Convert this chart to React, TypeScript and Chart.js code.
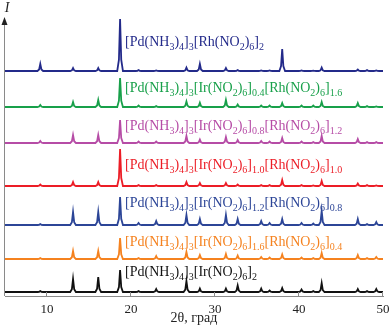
import React, { useEffect, useRef } from 'react';
import { Chart, registerables } from 'chart.js';

Chart.register(...registerables);

// 2θ positions (degrees) of the reflections
const peakPositions = [9.2, 13.1, 16.1, 18.7, 20.9, 23.0, 26.6, 28.2, 31.3, 32.7, 35.5, 36.5, 38.0, 40.3, 41.7, 42.7, 47.0, 48.1, 49.2];

// Peak intensities (arbitrary units) for each pattern, top to bottom
const intRh2 = [7, 3, 3, 52, 1, 0.5, 3.5, 7, 3, 1, 0.5, 0.5, 22, 0.5, 0.3, 3.5, 1.5, 1, 0.5];
const intIr04 = [2, 5, 7, 29, 1.5, 1, 5.5, 4.3, 7, 2.5, 1.5, 1.5, 4, 1.5, 1.5, 5, 4, 1, 0.5];
const intIr08 = [2, 8, 8, 23, 1.5, 1.5, 7, 3.5, 6, 3, 2, 1.5, 5, 1.5, 1, 7, 4, 1, 1];
const intIr10 = [1.5, 4, 4, 37, 1, 1, 4, 3, 3, 1.5, 1, 1, 6, 1, 0.5, 5, 2.5, 1, 0.5];
const intIr12 = [1, 13, 13, 28, 2, 4, 10, 6, 10, 6, 4, 2, 6, 2, 1.5, 14, 6, 1, 3];
const intIr16 = [1, 8, 8, 21, 1, 3, 7, 4, 5, 3.5, 2, 1.5, 4.5, 1.5, 1, 6, 4, 1, 2];
const intIr2 = [1, 13, 15, 22, 1, 3, 11, 3.5, 3.5, 6.5, 3.5, 1.5, 4, 2.5, 1, 9, 3, 1, 3];

const seriesIntensities = [intRh2, intIr04, intIr08, intIr10, intIr12, intIr16, intIr2];

// Labels (_{...} = subscript)
const seriesLabels = [
  '[Pd(NH_{3})_{4}]_{3}[Rh(NO_{2})_{6}]_{2}',
  '[Pd(NH_{3})_{4}]_{3}[Ir(NO_{2})_{6}]_{0.4}[Rh(NO_{2})_{6}]_{1.6}',
  '[Pd(NH_{3})_{4}]_{3}[Ir(NO_{2})_{6}]_{0.8}[Rh(NO_{2})_{6}]_{1.2}',
  '[Pd(NH_{3})_{4}]_{3}[Ir(NO_{2})_{6}]_{1.0}[Rh(NO_{2})_{6}]_{1.0}',
  '[Pd(NH_{3})_{4}]_{3}[Ir(NO_{2})_{6}]_{1.2}[Rh(NO_{2})_{6}]_{0.8}',
  '[Pd(NH_{3})_{4}]_{3}[Ir(NO_{2})_{6}]_{1.6}[Rh(NO_{2})_{6}]_{0.4}',
  '[Pd(NH_{3})_{4}]_{3}[Ir(NO_{2})_{6}]_{2}',
];

const seriesColors = ['#232a8a', '#18a04a', '#b64ca6', '#ec1d26', '#2c4597', '#f5821f', '#111111'];

// vertical stacking offsets of each pattern, and label lift above its baseline
const baselineOffsets = [225, 189, 153, 110, 71, 37, 4];
const labelLifts = [25, 15, 13, 17, 18, 13, 16];
const labelX = 19.3;

const xTicks = [10, 20, 30, 40, 50];
const xMin = 5;
const xMax = 50;
const yMax = 278;

function buildTrace(heights: number[], offset: number) {
  const pts: { x: number; y: number }[] = [{ x: xMin, y: offset }];
  const w = 0.34;
  peakPositions.forEach((p, i) => {
    const h = heights[i];
    pts.push({ x: p - w, y: offset });
    pts.push({ x: p - w * 0.4, y: offset + h * 0.22 });
    pts.push({ x: p, y: offset + h });
    pts.push({ x: p + w * 0.4, y: offset + h * 0.22 });
    pts.push({ x: p + w, y: offset });
  });
  pts.push({ x: xMax, y: offset });
  return pts;
}

function parseFormula(s: string) {
  const parts: { t: string; sub: boolean }[] = [];
  const re = /_\{([^}]*)\}|([^_]+)/g;
  let m: RegExpExecArray | null;
  while ((m = re.exec(s)) !== null) {
    if (m[1] !== undefined) parts.push({ t: m[1], sub: true });
    else parts.push({ t: m[2], sub: false });
  }
  return parts;
}

const SERIF = '"Liberation Serif", "DejaVu Serif", serif';

const decorPlugin = {
  id: 'decor',
  afterDraw(chart: any) {
    const { ctx, chartArea, scales } = chart;
    const xs = scales.x;
    const ys = scales.y;
    ctx.save();
    // y axis with arrow
    const ax = chartArea.left - 0.5;
    ctx.strokeStyle = '#8a8a8a';
    ctx.lineWidth = 1;
    ctx.beginPath();
    ctx.moveTo(ax, chartArea.bottom);
    ctx.lineTo(ax, chartArea.top + 6);
    ctx.stroke();
    ctx.fillStyle = '#222';
    ctx.beginPath();
    ctx.moveTo(ax, chartArea.top - 1);
    ctx.lineTo(ax - 3, chartArea.top + 7);
    ctx.lineTo(ax + 3, chartArea.top + 7);
    ctx.closePath();
    ctx.fill();
    ctx.font = 'italic 14px ' + SERIF;
    ctx.textAlign = 'center';
    ctx.textBaseline = 'middle';
    ctx.fillStyle = '#222';
    ctx.fillText('I', 7, 8);
    // x tick marks (inward)
    ctx.strokeStyle = '#8a8a8a';
    xTicks.forEach((t) => {
      const px = Math.round(xs.getPixelForValue(t)) - 0.5;
      ctx.beginPath();
      ctx.moveTo(px, chartArea.bottom);
      ctx.lineTo(px, chartArea.bottom - 4);
      ctx.stroke();
    });
    // labels
    ctx.textAlign = 'left';
    ctx.textBaseline = 'alphabetic';
    seriesLabels.forEach((lab, i) => {
      let x = xs.getPixelForValue(labelX);
      const y = ys.getPixelForValue(baselineOffsets[i] + labelLifts[i]);
      ctx.fillStyle = seriesColors[i];
      parseFormula(lab).forEach((p) => {
        if (p.sub) {
          ctx.font = '10px ' + SERIF;
          ctx.fillText(p.t, x, y + 4);
        } else {
          ctx.font = '14px ' + SERIF;
          ctx.fillText(p.t, x, y);
        }
        x += ctx.measureText(p.t).width;
      });
    });
    ctx.restore();
  },
};

export default function App() {
  const ref = useRef<HTMLCanvasElement>(null);
  useEffect(() => {
    if (!ref.current) return;
    const chart = new Chart(ref.current, {
      type: 'line',
      data: {
        datasets: seriesIntensities.map((h, i) => ({
          data: buildTrace(h, baselineOffsets[i]),
          borderColor: seriesColors[i],
          borderWidth: 1.8,
          pointRadius: 0,
          tension: 0,
          fill: false,
        })),
      },
      options: {
        animation: false,
        responsive: false,
        layout: { padding: { left: 5, right: 0, top: 18, bottom: 0 } },
        plugins: { legend: { display: false }, tooltip: { enabled: false } },
        scales: {
          x: {
            type: 'linear',
            min: xMin,
            max: xMax,
            afterBuildTicks: (s: any) => {
              s.ticks = xTicks.map((v) => ({ value: v }));
            },
            afterFit: (s: any) => {
              s.height = 36;
              s.paddingRight = 8;
            },
            grid: { display: false, drawTicks: false },
            border: { display: true, color: '#8a8a8a', width: 1 },
            ticks: {
              padding: 6,
              maxRotation: 0,
              color: '#222',
              font: { family: SERIF, size: 13 },
            },
            title: {
              display: true,
              text: '2θ, град',
              color: '#222',
              font: { family: SERIF, size: 14 },
              padding: { top: 0, bottom: 5 },
            },
          },
          y: {
            type: 'linear',
            display: false,
            min: 0,
            max: yMax,
          },
        },
      },
      plugins: [decorPlugin],
    });
    return () => chart.destroy();
  }, []);
  return (
    <div style={{ position: 'absolute', left: 0, top: 0, width: 391, height: 332 }}>
      <canvas ref={ref} width={391} height={332} />
    </div>
  );
}
